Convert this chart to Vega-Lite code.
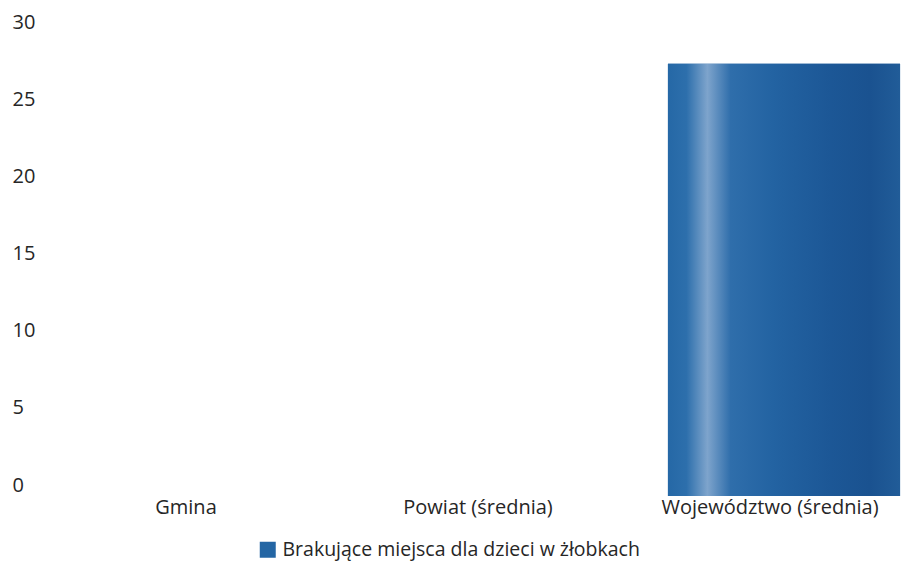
{
  "$schema": "https://vega.github.io/schema/vega-lite/v6.json",
  "width": 876,
  "height": 463,
  "autosize": "none",
  "padding": {"left": 54, "top": 33, "right": 0, "bottom": 73},
  "background": "white",
  "config": {"view": {"stroke": null}, "font": "Open Sans"},
  "data": {
    "values": [
      {"kategoria": "Gmina", "wartosc": 0, "seria": "Brakujące miejsca dla dzieci w żłobkach"},
      {"kategoria": "Powiat (średnia)", "wartosc": 0, "seria": "Brakujące miejsca dla dzieci w żłobkach"},
      {"kategoria": "Województwo (średnia)", "wartosc": 28, "seria": "Brakujące miejsca dla dzieci w żłobkach"}
    ]
  },
  "encoding": {
    "x": {
      "field": "kategoria",
      "type": "nominal",
      "sort": null,
      "scale": {"paddingInner": 0.205, "paddingOuter": 0.1025},
      "axis": {
        "title": null,
        "labelAngle": 0,
        "domain": false,
        "ticks": false,
        "labelFontSize": 20,
        "labelLimit": 0,
        "labelPadding": 1,
        "labelOffset": -14,
        "labelColor": "#262626"
      }
    },
    "y": {
      "field": "wartosc",
      "type": "quantitative",
      "scale": {"domain": [0, 30], "nice": false},
      "axis": {
        "title": null,
        "values": [0, 5, 10, 15, 20, 25, 30],
        "domain": false,
        "ticks": false,
        "grid": false,
        "labelAlign": "left",
        "labelPadding": 42,
        "labelFontSize": 20,
        "labelBaseline": "middle",
        "labelOffset": -11,
        "labelColor": "#262626"
      }
    }
  },
  "layer": [
    {
      "mark": {"type": "bar"},
      "encoding": {
        "fill": {
          "field": "seria",
          "type": "nominal",
          "scale": {"range": ["#2466a4"]},
          "legend": {
            "title": null,
            "orient": "none",
            "legendX": 204,
            "legendY": 507,
            "padding": 0,
            "symbolType": "square",
            "symbolSize": 256,
            "symbolStrokeWidth": 0,
            "labelFontSize": 19.5,
            "labelLimit": 0,
            "labelOffset": 5,
            "labelColor": "#262626"
          }
        }
      }
    },
    {
      "mark": {
        "type": "bar",
        "color": {
          "gradient": "linear",
          "x1": 0, "y1": 0, "x2": 1, "y2": 0,
          "stops": [
            {"offset": 0, "color": "#2568a6"},
            {"offset": 0.08, "color": "#2d6fac"},
            {"offset": 0.17, "color": "#7ea4cc"},
            {"offset": 0.27, "color": "#2f6eab"},
            {"offset": 0.45, "color": "#2363a2"},
            {"offset": 0.7, "color": "#1c5796"},
            {"offset": 0.87, "color": "#1a5290"},
            {"offset": 1, "color": "#215c98"}
          ]
        }
      }
    }
  ]
}
